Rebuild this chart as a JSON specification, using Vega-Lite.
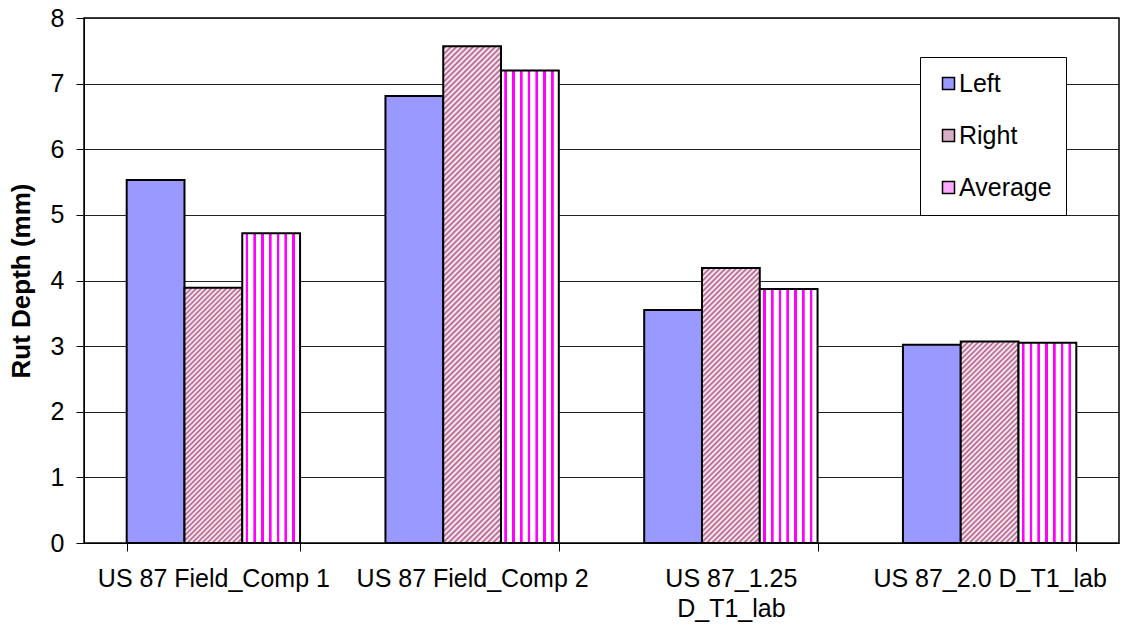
{
  "$schema": "https://vega.github.io/schema/vega-lite/v6.json",
  "width": 1035,
  "height": 525,
  "autosize": {"type": "none"},
  "padding": {"left": 84, "top": 18, "right": 5, "bottom": 87},
  "background": "white",
  "config": {"font": "Liberation Sans", "view": {"stroke": "#000", "strokeWidth": 1.5}},
  "data": {
    "values": [
      {"group": "US 87 Field_Comp 1", "side": "Left", "depth": 5.53},
      {"group": "US 87 Field_Comp 1", "side": "Right", "depth": 3.89},
      {"group": "US 87 Field_Comp 1", "side": "Average", "depth": 4.72},
      {"group": "US 87 Field_Comp 2", "side": "Left", "depth": 6.81},
      {"group": "US 87 Field_Comp 2", "side": "Right", "depth": 7.57},
      {"group": "US 87 Field_Comp 2", "side": "Average", "depth": 7.2},
      {"group": "US 87_1.25 D_T1_lab", "side": "Left", "depth": 3.55},
      {"group": "US 87_1.25 D_T1_lab", "side": "Right", "depth": 4.19},
      {"group": "US 87_1.25 D_T1_lab", "side": "Average", "depth": 3.87},
      {"group": "US 87_2.0 D_T1_lab", "side": "Left", "depth": 3.02},
      {"group": "US 87_2.0 D_T1_lab", "side": "Right", "depth": 3.07},
      {"group": "US 87_2.0 D_T1_lab", "side": "Average", "depth": 3.05}
    ]
  },
  "mark": {"type": "bar", "stroke": "#000", "strokeWidth": 2},
  "encoding": {
    "x": {
      "field": "group",
      "type": "nominal",
      "sort": null,
      "scale": {"paddingInner": 0.33, "paddingOuter": 0.165},
      "axis": {
        "title": null,
        "labelFontSize": 25,
        "labelColor": "#000",
        "labelAngle": 0,
        "labelPadding": 15,
        "labelLineHeight": 30,
        "labelBaseline": "top",
        "labelLimit": 400,
        "labelOverlap": false,
        "labelExpr": "datum.value == 'US 87_1.25 D_T1_lab' ? ['US 87_1.25', 'D_T1_lab'] : datum.value",
        "tickBand": "extent",
        "tickSize": 8,
        "tickColor": "#000",
        "domainColor": "#000",
        "grid": false
      }
    },
    "xOffset": {
      "field": "side",
      "type": "nominal",
      "sort": ["Left", "Right", "Average"],
      "scale": {"domain": ["Left", "Right", "Average"], "paddingInner": 0, "paddingOuter": 0}
    },
    "y": {
      "field": "depth",
      "type": "quantitative",
      "scale": {"domain": [0, 8], "nice": false},
      "axis": {
        "title": "Rut Depth (mm)",
        "titleFontSize": 26,
        "titleFontWeight": "bold",
        "titleColor": "#000",
        "titlePadding": 16,
        "values": [0, 1, 2, 3, 4, 5, 6, 7, 8],
        "format": "d",
        "labelFontSize": 25,
        "labelColor": "#000",
        "labelPadding": 12,
        "tickSize": 8,
        "tickColor": "#000",
        "domainColor": "#000",
        "grid": true,
        "gridColor": "#222",
        "gridWidth": 1
      }
    },
    "color": {
      "condition": [
        {
          "test": "datum.side === 'Average'",
          "value": {
            "gradient": "linear",
            "x1": 0, "y1": 0, "x2": 1, "y2": 0,
            "stops": [
              {"offset": 0, "color": "#ffffff"},
              {"offset": 0.054, "color": "#ffffff"},
              {"offset": 0.062, "color": "#ff00ff"},
              {"offset": 0.1, "color": "#ff00ff"},
              {"offset": 0.108, "color": "#ffffff"},
              {"offset": 0.189, "color": "#ffffff"},
              {"offset": 0.197, "color": "#ff00ff"},
              {"offset": 0.235, "color": "#ff00ff"},
              {"offset": 0.243, "color": "#ffffff"},
              {"offset": 0.323, "color": "#ffffff"},
              {"offset": 0.331, "color": "#ff00ff"},
              {"offset": 0.369, "color": "#ff00ff"},
              {"offset": 0.377, "color": "#ffffff"},
              {"offset": 0.457, "color": "#ffffff"},
              {"offset": 0.465, "color": "#ff00ff"},
              {"offset": 0.503, "color": "#ff00ff"},
              {"offset": 0.511, "color": "#ffffff"},
              {"offset": 0.592, "color": "#ffffff"},
              {"offset": 0.6, "color": "#ff00ff"},
              {"offset": 0.638, "color": "#ff00ff"},
              {"offset": 0.646, "color": "#ffffff"},
              {"offset": 0.726, "color": "#ffffff"},
              {"offset": 0.734, "color": "#ff00ff"},
              {"offset": 0.772, "color": "#ff00ff"},
              {"offset": 0.78, "color": "#ffffff"},
              {"offset": 0.861, "color": "#ffffff"},
              {"offset": 0.869, "color": "#ff00ff"},
              {"offset": 0.907, "color": "#ff00ff"},
              {"offset": 0.915, "color": "#ffffff"},
              {"offset": 1, "color": "#ffffff"}
            ]
          }
        },
        {
          "test": "datum.side === 'Right' && datum.group === 'US 87 Field_Comp 1'",
          "value": {
            "gradient": "linear",
            "x1": 0, "y1": 0, "x2": 0.2641, "y2": 1.1666,
            "stops": [
              {"offset":0,"color":"#fff"},{"offset":0.008,"color":"#b35a88"},{"offset":0.016,"color":"#fff"},{"offset":0.024,"color":"#b35a88"},{"offset":0.032,"color":"#fff"},{"offset":0.04,"color":"#b35a88"},{"offset":0.048,"color":"#fff"},{"offset":0.056,"color":"#b35a88"},{"offset":0.064,"color":"#fff"},{"offset":0.072,"color":"#b35a88"},
              {"offset":0.08,"color":"#fff"},{"offset":0.088,"color":"#b35a88"},{"offset":0.096,"color":"#fff"},{"offset":0.104,"color":"#b35a88"},{"offset":0.112,"color":"#fff"},{"offset":0.12,"color":"#b35a88"},{"offset":0.128,"color":"#fff"},{"offset":0.136,"color":"#b35a88"},{"offset":0.144,"color":"#fff"},{"offset":0.152,"color":"#b35a88"},
              {"offset":0.16,"color":"#fff"},{"offset":0.168,"color":"#b35a88"},{"offset":0.176,"color":"#fff"},{"offset":0.184,"color":"#b35a88"},{"offset":0.192,"color":"#fff"},{"offset":0.2,"color":"#b35a88"},{"offset":0.208,"color":"#fff"},{"offset":0.216,"color":"#b35a88"},{"offset":0.224,"color":"#fff"},{"offset":0.232,"color":"#b35a88"},
              {"offset":0.24,"color":"#fff"},{"offset":0.248,"color":"#b35a88"},{"offset":0.256,"color":"#fff"},{"offset":0.264,"color":"#b35a88"},{"offset":0.272,"color":"#fff"},{"offset":0.28,"color":"#b35a88"},{"offset":0.288,"color":"#fff"},{"offset":0.296,"color":"#b35a88"},{"offset":0.304,"color":"#fff"},{"offset":0.312,"color":"#b35a88"},
              {"offset":0.32,"color":"#fff"},{"offset":0.328,"color":"#b35a88"},{"offset":0.336,"color":"#fff"},{"offset":0.344,"color":"#b35a88"},{"offset":0.352,"color":"#fff"},{"offset":0.36,"color":"#b35a88"},{"offset":0.368,"color":"#fff"},{"offset":0.376,"color":"#b35a88"},{"offset":0.384,"color":"#fff"},{"offset":0.392,"color":"#b35a88"},
              {"offset":0.4,"color":"#fff"},{"offset":0.408,"color":"#b35a88"},{"offset":0.416,"color":"#fff"},{"offset":0.424,"color":"#b35a88"},{"offset":0.432,"color":"#fff"},{"offset":0.44,"color":"#b35a88"},{"offset":0.448,"color":"#fff"},{"offset":0.456,"color":"#b35a88"},{"offset":0.464,"color":"#fff"},{"offset":0.472,"color":"#b35a88"},
              {"offset":0.48,"color":"#fff"},{"offset":0.488,"color":"#b35a88"},{"offset":0.496,"color":"#fff"},{"offset":0.504,"color":"#b35a88"},{"offset":0.512,"color":"#fff"},{"offset":0.52,"color":"#b35a88"},{"offset":0.528,"color":"#fff"},{"offset":0.536,"color":"#b35a88"},{"offset":0.544,"color":"#fff"},{"offset":0.552,"color":"#b35a88"},
              {"offset":0.56,"color":"#fff"},{"offset":0.568,"color":"#b35a88"},{"offset":0.576,"color":"#fff"},{"offset":0.584,"color":"#b35a88"},{"offset":0.592,"color":"#fff"},{"offset":0.6,"color":"#b35a88"},{"offset":0.608,"color":"#fff"},{"offset":0.616,"color":"#b35a88"},{"offset":0.624,"color":"#fff"},{"offset":0.632,"color":"#b35a88"},
              {"offset":0.64,"color":"#fff"},{"offset":0.648,"color":"#b35a88"},{"offset":0.656,"color":"#fff"},{"offset":0.664,"color":"#b35a88"},{"offset":0.672,"color":"#fff"},{"offset":0.68,"color":"#b35a88"},{"offset":0.688,"color":"#fff"},{"offset":0.696,"color":"#b35a88"},{"offset":0.704,"color":"#fff"},{"offset":0.712,"color":"#b35a88"},
              {"offset":0.72,"color":"#fff"},{"offset":0.728,"color":"#b35a88"},{"offset":0.736,"color":"#fff"},{"offset":0.744,"color":"#b35a88"},{"offset":0.752,"color":"#fff"},{"offset":0.76,"color":"#b35a88"},{"offset":0.768,"color":"#fff"},{"offset":0.776,"color":"#b35a88"},{"offset":0.784,"color":"#fff"},{"offset":0.792,"color":"#b35a88"},
              {"offset":0.8,"color":"#fff"},{"offset":0.808,"color":"#b35a88"},{"offset":0.816,"color":"#fff"},{"offset":0.824,"color":"#b35a88"},{"offset":0.832,"color":"#fff"},{"offset":0.84,"color":"#b35a88"},{"offset":0.848,"color":"#fff"},{"offset":0.856,"color":"#b35a88"},{"offset":0.864,"color":"#fff"},{"offset":0.872,"color":"#b35a88"},
              {"offset":0.88,"color":"#fff"},{"offset":0.888,"color":"#b35a88"},{"offset":0.896,"color":"#fff"},{"offset":0.904,"color":"#b35a88"},{"offset":0.912,"color":"#fff"},{"offset":0.92,"color":"#b35a88"},{"offset":0.928,"color":"#fff"},{"offset":0.936,"color":"#b35a88"},{"offset":0.944,"color":"#fff"},{"offset":0.952,"color":"#b35a88"},
              {"offset":0.96,"color":"#fff"},{"offset":0.968,"color":"#b35a88"},{"offset":0.976,"color":"#fff"},{"offset":0.984,"color":"#b35a88"},{"offset":0.992,"color":"#fff"},{"offset":1,"color":"#b35a88"}
            ]
          }
        },
        {
          "test": "datum.side === 'Right' && datum.group === 'US 87_1.25 D_T1_lab'",
          "value": {
            "gradient": "linear",
            "x1": 0, "y1": 0, "x2": 0.2436, "y2": 1.1589,
            "stops": [
              {"offset":0,"color":"#fff"},{"offset":0.008,"color":"#b35a88"},{"offset":0.016,"color":"#fff"},{"offset":0.024,"color":"#b35a88"},{"offset":0.032,"color":"#fff"},{"offset":0.04,"color":"#b35a88"},{"offset":0.048,"color":"#fff"},{"offset":0.056,"color":"#b35a88"},{"offset":0.064,"color":"#fff"},{"offset":0.072,"color":"#b35a88"},
              {"offset":0.08,"color":"#fff"},{"offset":0.088,"color":"#b35a88"},{"offset":0.096,"color":"#fff"},{"offset":0.104,"color":"#b35a88"},{"offset":0.112,"color":"#fff"},{"offset":0.12,"color":"#b35a88"},{"offset":0.128,"color":"#fff"},{"offset":0.136,"color":"#b35a88"},{"offset":0.144,"color":"#fff"},{"offset":0.152,"color":"#b35a88"},
              {"offset":0.16,"color":"#fff"},{"offset":0.168,"color":"#b35a88"},{"offset":0.176,"color":"#fff"},{"offset":0.184,"color":"#b35a88"},{"offset":0.192,"color":"#fff"},{"offset":0.2,"color":"#b35a88"},{"offset":0.208,"color":"#fff"},{"offset":0.216,"color":"#b35a88"},{"offset":0.224,"color":"#fff"},{"offset":0.232,"color":"#b35a88"},
              {"offset":0.24,"color":"#fff"},{"offset":0.248,"color":"#b35a88"},{"offset":0.256,"color":"#fff"},{"offset":0.264,"color":"#b35a88"},{"offset":0.272,"color":"#fff"},{"offset":0.28,"color":"#b35a88"},{"offset":0.288,"color":"#fff"},{"offset":0.296,"color":"#b35a88"},{"offset":0.304,"color":"#fff"},{"offset":0.312,"color":"#b35a88"},
              {"offset":0.32,"color":"#fff"},{"offset":0.328,"color":"#b35a88"},{"offset":0.336,"color":"#fff"},{"offset":0.344,"color":"#b35a88"},{"offset":0.352,"color":"#fff"},{"offset":0.36,"color":"#b35a88"},{"offset":0.368,"color":"#fff"},{"offset":0.376,"color":"#b35a88"},{"offset":0.384,"color":"#fff"},{"offset":0.392,"color":"#b35a88"},
              {"offset":0.4,"color":"#fff"},{"offset":0.408,"color":"#b35a88"},{"offset":0.416,"color":"#fff"},{"offset":0.424,"color":"#b35a88"},{"offset":0.432,"color":"#fff"},{"offset":0.44,"color":"#b35a88"},{"offset":0.448,"color":"#fff"},{"offset":0.456,"color":"#b35a88"},{"offset":0.464,"color":"#fff"},{"offset":0.472,"color":"#b35a88"},
              {"offset":0.48,"color":"#fff"},{"offset":0.488,"color":"#b35a88"},{"offset":0.496,"color":"#fff"},{"offset":0.504,"color":"#b35a88"},{"offset":0.512,"color":"#fff"},{"offset":0.52,"color":"#b35a88"},{"offset":0.528,"color":"#fff"},{"offset":0.536,"color":"#b35a88"},{"offset":0.544,"color":"#fff"},{"offset":0.552,"color":"#b35a88"},
              {"offset":0.56,"color":"#fff"},{"offset":0.568,"color":"#b35a88"},{"offset":0.576,"color":"#fff"},{"offset":0.584,"color":"#b35a88"},{"offset":0.592,"color":"#fff"},{"offset":0.6,"color":"#b35a88"},{"offset":0.608,"color":"#fff"},{"offset":0.616,"color":"#b35a88"},{"offset":0.624,"color":"#fff"},{"offset":0.632,"color":"#b35a88"},
              {"offset":0.64,"color":"#fff"},{"offset":0.648,"color":"#b35a88"},{"offset":0.656,"color":"#fff"},{"offset":0.664,"color":"#b35a88"},{"offset":0.672,"color":"#fff"},{"offset":0.68,"color":"#b35a88"},{"offset":0.688,"color":"#fff"},{"offset":0.696,"color":"#b35a88"},{"offset":0.704,"color":"#fff"},{"offset":0.712,"color":"#b35a88"},
              {"offset":0.72,"color":"#fff"},{"offset":0.728,"color":"#b35a88"},{"offset":0.736,"color":"#fff"},{"offset":0.744,"color":"#b35a88"},{"offset":0.752,"color":"#fff"},{"offset":0.76,"color":"#b35a88"},{"offset":0.768,"color":"#fff"},{"offset":0.776,"color":"#b35a88"},{"offset":0.784,"color":"#fff"},{"offset":0.792,"color":"#b35a88"},
              {"offset":0.8,"color":"#fff"},{"offset":0.808,"color":"#b35a88"},{"offset":0.816,"color":"#fff"},{"offset":0.824,"color":"#b35a88"},{"offset":0.832,"color":"#fff"},{"offset":0.84,"color":"#b35a88"},{"offset":0.848,"color":"#fff"},{"offset":0.856,"color":"#b35a88"},{"offset":0.864,"color":"#fff"},{"offset":0.872,"color":"#b35a88"},
              {"offset":0.88,"color":"#fff"},{"offset":0.888,"color":"#b35a88"},{"offset":0.896,"color":"#fff"},{"offset":0.904,"color":"#b35a88"},{"offset":0.912,"color":"#fff"},{"offset":0.92,"color":"#b35a88"},{"offset":0.928,"color":"#fff"},{"offset":0.936,"color":"#b35a88"},{"offset":0.944,"color":"#fff"},{"offset":0.952,"color":"#b35a88"},
              {"offset":0.96,"color":"#fff"},{"offset":0.968,"color":"#b35a88"},{"offset":0.976,"color":"#fff"},{"offset":0.984,"color":"#b35a88"},{"offset":0.992,"color":"#fff"},{"offset":1,"color":"#b35a88"}
            ]
          }
        },
        {
          "test": "datum.side === 'Right' && datum.group === 'US 87_2.0 D_T1_lab'",
          "value": {
            "gradient": "linear",
            "x1": 0, "y1": 0, "x2": 0.3411, "y2": 1.189,
            "stops": [
              {"offset":0,"color":"#fff"},{"offset":0.01,"color":"#b35a88"},{"offset":0.02,"color":"#fff"},{"offset":0.03,"color":"#b35a88"},{"offset":0.04,"color":"#fff"},{"offset":0.05,"color":"#b35a88"},{"offset":0.06,"color":"#fff"},{"offset":0.07,"color":"#b35a88"},{"offset":0.08,"color":"#fff"},{"offset":0.09,"color":"#b35a88"},
              {"offset":0.1,"color":"#fff"},{"offset":0.11,"color":"#b35a88"},{"offset":0.12,"color":"#fff"},{"offset":0.13,"color":"#b35a88"},{"offset":0.14,"color":"#fff"},{"offset":0.15,"color":"#b35a88"},{"offset":0.16,"color":"#fff"},{"offset":0.17,"color":"#b35a88"},{"offset":0.18,"color":"#fff"},{"offset":0.19,"color":"#b35a88"},
              {"offset":0.2,"color":"#fff"},{"offset":0.21,"color":"#b35a88"},{"offset":0.22,"color":"#fff"},{"offset":0.23,"color":"#b35a88"},{"offset":0.24,"color":"#fff"},{"offset":0.25,"color":"#b35a88"},{"offset":0.26,"color":"#fff"},{"offset":0.27,"color":"#b35a88"},{"offset":0.28,"color":"#fff"},{"offset":0.29,"color":"#b35a88"},
              {"offset":0.3,"color":"#fff"},{"offset":0.31,"color":"#b35a88"},{"offset":0.32,"color":"#fff"},{"offset":0.33,"color":"#b35a88"},{"offset":0.34,"color":"#fff"},{"offset":0.35,"color":"#b35a88"},{"offset":0.36,"color":"#fff"},{"offset":0.37,"color":"#b35a88"},{"offset":0.38,"color":"#fff"},{"offset":0.39,"color":"#b35a88"},
              {"offset":0.4,"color":"#fff"},{"offset":0.41,"color":"#b35a88"},{"offset":0.42,"color":"#fff"},{"offset":0.43,"color":"#b35a88"},{"offset":0.44,"color":"#fff"},{"offset":0.45,"color":"#b35a88"},{"offset":0.46,"color":"#fff"},{"offset":0.47,"color":"#b35a88"},{"offset":0.48,"color":"#fff"},{"offset":0.49,"color":"#b35a88"},
              {"offset":0.5,"color":"#fff"},{"offset":0.51,"color":"#b35a88"},{"offset":0.52,"color":"#fff"},{"offset":0.53,"color":"#b35a88"},{"offset":0.54,"color":"#fff"},{"offset":0.55,"color":"#b35a88"},{"offset":0.56,"color":"#fff"},{"offset":0.57,"color":"#b35a88"},{"offset":0.58,"color":"#fff"},{"offset":0.59,"color":"#b35a88"},
              {"offset":0.6,"color":"#fff"},{"offset":0.61,"color":"#b35a88"},{"offset":0.62,"color":"#fff"},{"offset":0.63,"color":"#b35a88"},{"offset":0.64,"color":"#fff"},{"offset":0.65,"color":"#b35a88"},{"offset":0.66,"color":"#fff"},{"offset":0.67,"color":"#b35a88"},{"offset":0.68,"color":"#fff"},{"offset":0.69,"color":"#b35a88"},
              {"offset":0.7,"color":"#fff"},{"offset":0.71,"color":"#b35a88"},{"offset":0.72,"color":"#fff"},{"offset":0.73,"color":"#b35a88"},{"offset":0.74,"color":"#fff"},{"offset":0.75,"color":"#b35a88"},{"offset":0.76,"color":"#fff"},{"offset":0.77,"color":"#b35a88"},{"offset":0.78,"color":"#fff"},{"offset":0.79,"color":"#b35a88"},
              {"offset":0.8,"color":"#fff"},{"offset":0.81,"color":"#b35a88"},{"offset":0.82,"color":"#fff"},{"offset":0.83,"color":"#b35a88"},{"offset":0.84,"color":"#fff"},{"offset":0.85,"color":"#b35a88"},{"offset":0.86,"color":"#fff"},{"offset":0.87,"color":"#b35a88"},{"offset":0.88,"color":"#fff"},{"offset":0.89,"color":"#b35a88"},
              {"offset":0.9,"color":"#fff"},{"offset":0.91,"color":"#b35a88"},{"offset":0.92,"color":"#fff"},{"offset":0.93,"color":"#b35a88"},{"offset":0.94,"color":"#fff"},{"offset":0.95,"color":"#b35a88"},{"offset":0.96,"color":"#fff"},{"offset":0.97,"color":"#b35a88"},{"offset":0.98,"color":"#fff"},{"offset":0.99,"color":"#b35a88"},
              {"offset":1,"color":"#fff"}
            ]
          }
        },
        {
          "test": "datum.side === 'Right' && datum.group === 'US 87 Field_Comp 2'",
          "value": {
            "gradient": "linear",
            "x1": 0, "y1": 0, "x2": 0.1281, "y2": 1.1014,
            "stops": [
              {"offset":0,"color":"#fff"},{"offset":0.005,"color":"#b35a88"},{"offset":0.01,"color":"#fff"},{"offset":0.015,"color":"#b35a88"},{"offset":0.02,"color":"#fff"},{"offset":0.025,"color":"#b35a88"},{"offset":0.03,"color":"#fff"},{"offset":0.035,"color":"#b35a88"},{"offset":0.04,"color":"#fff"},{"offset":0.045,"color":"#b35a88"},
              {"offset":0.05,"color":"#fff"},{"offset":0.055,"color":"#b35a88"},{"offset":0.06,"color":"#fff"},{"offset":0.065,"color":"#b35a88"},{"offset":0.07,"color":"#fff"},{"offset":0.075,"color":"#b35a88"},{"offset":0.08,"color":"#fff"},{"offset":0.085,"color":"#b35a88"},{"offset":0.09,"color":"#fff"},{"offset":0.095,"color":"#b35a88"},
              {"offset":0.1,"color":"#fff"},{"offset":0.105,"color":"#b35a88"},{"offset":0.11,"color":"#fff"},{"offset":0.115,"color":"#b35a88"},{"offset":0.12,"color":"#fff"},{"offset":0.125,"color":"#b35a88"},{"offset":0.13,"color":"#fff"},{"offset":0.135,"color":"#b35a88"},{"offset":0.14,"color":"#fff"},{"offset":0.145,"color":"#b35a88"},
              {"offset":0.15,"color":"#fff"},{"offset":0.155,"color":"#b35a88"},{"offset":0.16,"color":"#fff"},{"offset":0.165,"color":"#b35a88"},{"offset":0.17,"color":"#fff"},{"offset":0.175,"color":"#b35a88"},{"offset":0.18,"color":"#fff"},{"offset":0.185,"color":"#b35a88"},{"offset":0.19,"color":"#fff"},{"offset":0.195,"color":"#b35a88"},
              {"offset":0.2,"color":"#fff"},{"offset":0.205,"color":"#b35a88"},{"offset":0.21,"color":"#fff"},{"offset":0.215,"color":"#b35a88"},{"offset":0.22,"color":"#fff"},{"offset":0.225,"color":"#b35a88"},{"offset":0.23,"color":"#fff"},{"offset":0.235,"color":"#b35a88"},{"offset":0.24,"color":"#fff"},{"offset":0.245,"color":"#b35a88"},
              {"offset":0.25,"color":"#fff"},{"offset":0.255,"color":"#b35a88"},{"offset":0.26,"color":"#fff"},{"offset":0.265,"color":"#b35a88"},{"offset":0.27,"color":"#fff"},{"offset":0.275,"color":"#b35a88"},{"offset":0.28,"color":"#fff"},{"offset":0.285,"color":"#b35a88"},{"offset":0.29,"color":"#fff"},{"offset":0.295,"color":"#b35a88"},
              {"offset":0.3,"color":"#fff"},{"offset":0.305,"color":"#b35a88"},{"offset":0.31,"color":"#fff"},{"offset":0.315,"color":"#b35a88"},{"offset":0.32,"color":"#fff"},{"offset":0.325,"color":"#b35a88"},{"offset":0.33,"color":"#fff"},{"offset":0.335,"color":"#b35a88"},{"offset":0.34,"color":"#fff"},{"offset":0.345,"color":"#b35a88"},
              {"offset":0.35,"color":"#fff"},{"offset":0.355,"color":"#b35a88"},{"offset":0.36,"color":"#fff"},{"offset":0.365,"color":"#b35a88"},{"offset":0.37,"color":"#fff"},{"offset":0.375,"color":"#b35a88"},{"offset":0.38,"color":"#fff"},{"offset":0.385,"color":"#b35a88"},{"offset":0.39,"color":"#fff"},{"offset":0.395,"color":"#b35a88"},
              {"offset":0.4,"color":"#fff"},{"offset":0.405,"color":"#b35a88"},{"offset":0.41,"color":"#fff"},{"offset":0.415,"color":"#b35a88"},{"offset":0.42,"color":"#fff"},{"offset":0.425,"color":"#b35a88"},{"offset":0.43,"color":"#fff"},{"offset":0.435,"color":"#b35a88"},{"offset":0.44,"color":"#fff"},{"offset":0.445,"color":"#b35a88"},
              {"offset":0.45,"color":"#fff"},{"offset":0.455,"color":"#b35a88"},{"offset":0.46,"color":"#fff"},{"offset":0.465,"color":"#b35a88"},{"offset":0.47,"color":"#fff"},{"offset":0.475,"color":"#b35a88"},{"offset":0.48,"color":"#fff"},{"offset":0.485,"color":"#b35a88"},{"offset":0.49,"color":"#fff"},{"offset":0.495,"color":"#b35a88"},
              {"offset":0.5,"color":"#fff"},{"offset":0.505,"color":"#b35a88"},{"offset":0.51,"color":"#fff"},{"offset":0.515,"color":"#b35a88"},{"offset":0.52,"color":"#fff"},{"offset":0.525,"color":"#b35a88"},{"offset":0.53,"color":"#fff"},{"offset":0.535,"color":"#b35a88"},{"offset":0.54,"color":"#fff"},{"offset":0.545,"color":"#b35a88"},
              {"offset":0.55,"color":"#fff"},{"offset":0.555,"color":"#b35a88"},{"offset":0.56,"color":"#fff"},{"offset":0.565,"color":"#b35a88"},{"offset":0.57,"color":"#fff"},{"offset":0.575,"color":"#b35a88"},{"offset":0.58,"color":"#fff"},{"offset":0.585,"color":"#b35a88"},{"offset":0.59,"color":"#fff"},{"offset":0.595,"color":"#b35a88"},
              {"offset":0.6,"color":"#fff"},{"offset":0.605,"color":"#b35a88"},{"offset":0.61,"color":"#fff"},{"offset":0.615,"color":"#b35a88"},{"offset":0.62,"color":"#fff"},{"offset":0.625,"color":"#b35a88"},{"offset":0.63,"color":"#fff"},{"offset":0.635,"color":"#b35a88"},{"offset":0.64,"color":"#fff"},{"offset":0.645,"color":"#b35a88"},
              {"offset":0.65,"color":"#fff"},{"offset":0.655,"color":"#b35a88"},{"offset":0.66,"color":"#fff"},{"offset":0.665,"color":"#b35a88"},{"offset":0.67,"color":"#fff"},{"offset":0.675,"color":"#b35a88"},{"offset":0.68,"color":"#fff"},{"offset":0.685,"color":"#b35a88"},{"offset":0.69,"color":"#fff"},{"offset":0.695,"color":"#b35a88"},
              {"offset":0.7,"color":"#fff"},{"offset":0.705,"color":"#b35a88"},{"offset":0.71,"color":"#fff"},{"offset":0.715,"color":"#b35a88"},{"offset":0.72,"color":"#fff"},{"offset":0.725,"color":"#b35a88"},{"offset":0.73,"color":"#fff"},{"offset":0.735,"color":"#b35a88"},{"offset":0.74,"color":"#fff"},{"offset":0.745,"color":"#b35a88"},
              {"offset":0.75,"color":"#fff"},{"offset":0.755,"color":"#b35a88"},{"offset":0.76,"color":"#fff"},{"offset":0.765,"color":"#b35a88"},{"offset":0.77,"color":"#fff"},{"offset":0.775,"color":"#b35a88"},{"offset":0.78,"color":"#fff"},{"offset":0.785,"color":"#b35a88"},{"offset":0.79,"color":"#fff"},{"offset":0.795,"color":"#b35a88"},
              {"offset":0.8,"color":"#fff"},{"offset":0.805,"color":"#b35a88"},{"offset":0.81,"color":"#fff"},{"offset":0.815,"color":"#b35a88"},{"offset":0.82,"color":"#fff"},{"offset":0.825,"color":"#b35a88"},{"offset":0.83,"color":"#fff"},{"offset":0.835,"color":"#b35a88"},{"offset":0.84,"color":"#fff"},{"offset":0.845,"color":"#b35a88"},
              {"offset":0.85,"color":"#fff"},{"offset":0.855,"color":"#b35a88"},{"offset":0.86,"color":"#fff"},{"offset":0.865,"color":"#b35a88"},{"offset":0.87,"color":"#fff"},{"offset":0.875,"color":"#b35a88"},{"offset":0.88,"color":"#fff"},{"offset":0.885,"color":"#b35a88"},{"offset":0.89,"color":"#fff"},{"offset":0.895,"color":"#b35a88"},
              {"offset":0.9,"color":"#fff"},{"offset":0.905,"color":"#b35a88"},{"offset":0.91,"color":"#fff"},{"offset":0.915,"color":"#b35a88"},{"offset":0.92,"color":"#fff"},{"offset":0.925,"color":"#b35a88"},{"offset":0.93,"color":"#fff"},{"offset":0.935,"color":"#b35a88"},{"offset":0.94,"color":"#fff"},{"offset":0.945,"color":"#b35a88"},
              {"offset":0.95,"color":"#fff"},{"offset":0.955,"color":"#b35a88"},{"offset":0.96,"color":"#fff"},{"offset":0.965,"color":"#b35a88"},{"offset":0.97,"color":"#fff"},{"offset":0.975,"color":"#b35a88"},{"offset":0.98,"color":"#fff"},{"offset":0.985,"color":"#b35a88"},{"offset":0.99,"color":"#fff"},{"offset":0.995,"color":"#b35a88"},
              {"offset":1,"color":"#fff"}
            ]
          }
        }
      ],
      "field": "side",
      "type": "nominal",
      "sort": ["Left", "Right", "Average"],
      "scale": {"domain": ["Left", "Right", "Average"], "range": ["#9999FF", "#D9ADC4", "#FFA8FF"]},
      "legend": {
        "title": null,
        "orient": "none",
        "legendX": 836,
        "legendY": 39,
        "fillColor": "#ffffff",
        "strokeColor": "#000",
        "padding": 14,
        "labelFontSize": 25,
        "labelColor": "#000",
        "symbolType": "square",
        "symbolSize": 144,
        "symbolStrokeColor": "#000",
        "symbolStrokeWidth": 1.5,
        "rowPadding": 26,
        "labelOffset": -2,
        "symbolOffset": 2
      }
    }
  }
}
